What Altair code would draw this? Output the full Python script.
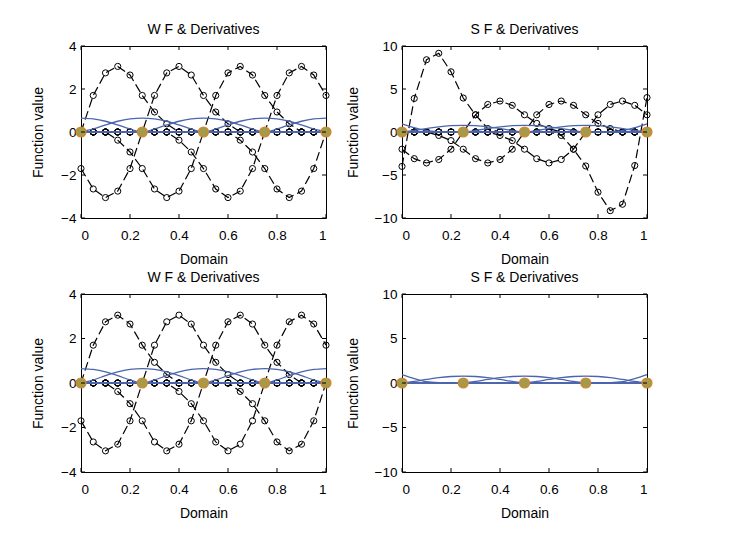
import altair as alt
import pandas as pd

# ---------------- data ----------------
X = [0.0, 0.05, 0.1, 0.15, 0.2, 0.25, 0.3, 0.35, 0.4, 0.45, 0.5,
     0.55, 0.6, 0.65, 0.7, 0.75, 0.8, 0.85, 0.9, 0.95, 1.0]
X_TICKS = [0, 0.2, 0.4, 0.6, 0.8, 1]
NODE_X = [0.0, 0.25, 0.5, 0.75, 1.0]
NODE_Y = [0, 0, 0, 0, 0]

# W F & derivatives (black dashed, circle markers)
WF_R0 = [0, 1.7, 2.75, 3.05, 2.65, 1.7, 0.93, 0.38, 0] + [0] * 12
WF_R1 = [0] * 5 + [0, 1.7, 2.75, 3.05, 2.65, 1.7, 0.93, 0.38, 0] + [0] * 7
WF_R2 = [0] * 10 + [0, 1.7, 2.75, 3.05, 2.65, 1.7, 0.93, 0.38, 0] + [0] * 2
WF_R3 = [0] * 15 + [0, 1.7, 2.75, 3.05, 2.65, 1.7]
WF_L1 = [-1.7, -2.65, -3.05, -2.75, -1.7, 0] + [0] * 15
WF_L2 = [0] * 3 + [-0.38, -0.93, -1.7, -2.65, -3.05, -2.75, -1.7, 0] + [0] * 10
WF_L3 = [0] * 8 + [-0.38, -0.93, -1.7, -2.65, -3.05, -2.75, -1.7, 0] + [0] * 5
WF_L4 = [0] * 13 + [-0.38, -0.93, -1.7, -2.65, -3.05, -2.75, -1.7, 0]

# W F weight functions (blue)
WF_B0 = [0.65, 0.61, 0.5, 0.33, 0.14, 0] + [0] * 15
WF_B1 = [0, 0.14, 0.33, 0.5, 0.61, 0.65, 0.61, 0.5, 0.33, 0.14, 0] + [0] * 10
WF_B2 = [0] * 5 + [0, 0.14, 0.33, 0.5, 0.61, 0.65, 0.61, 0.5, 0.33, 0.14, 0] + [0] * 5
WF_B3 = [0] * 10 + [0, 0.14, 0.33, 0.5, 0.61, 0.65, 0.61, 0.5, 0.33, 0.14, 0]
WF_B4 = [0] * 15 + [0, 0.14, 0.33, 0.5, 0.61, 0.65]

# S F & derivatives (black dashed, circle markers)
SF_R0 = [-4.0, 3.9, 8.4, 9.15, 7.0, 3.95, 2.0, 0.4, 0] + [0] * 12
SF_R1 = [0] * 5 + [0, 2.0, 3.2, 3.6, 3.1, 2.0, 1.0, 0.4, 0] + [0] * 7
SF_R2 = [0] * 10 + [0, 2.0, 3.2, 3.6, 3.1, 2.0, 1.0, 0.4, 0] + [0] * 2
SF_R3 = [0] * 15 + [0, 2.0, 3.2, 3.6, 3.1, 2.0]
SF_L1 = [-2.0, -3.1, -3.6, -3.2, -2.0, 0] + [0] * 15
SF_L2 = [0] * 3 + [-0.4, -1.0, -2.0, -3.1, -3.6, -3.2, -2.0, 0] + [0] * 10
SF_L3 = [0] * 8 + [-0.4, -1.0, -2.0, -3.1, -3.6, -3.2, -2.0, 0] + [0] * 5
SF_L4 = [0] * 13 + [-0.4, -2.0, -3.95, -7.0, -9.15, -8.4, -3.9, 4.0]

# S F weight functions (blue)
SF_B0 = [0.95, 0.5, 0.15, 0.03, 0] + [0] * 16
SF_B1 = [0, 0.18, 0.4, 0.6, 0.73, 0.78, 0.73, 0.6, 0.4, 0.18, 0] + [0] * 10
SF_B2 = [0] * 5 + [0, 0.18, 0.4, 0.6, 0.73, 0.78, 0.73, 0.6, 0.4, 0.18, 0] + [0] * 5
SF_B3 = [0] * 10 + [0, 0.18, 0.4, 0.6, 0.73, 0.78, 0.73, 0.6, 0.4, 0.18, 0]
SF_B4 = [0] * 17 + [0.03, 0.15, 0.5, 0.95]

WF_BLACK = {"r0": WF_R0, "r1": WF_R1, "r2": WF_R2, "r3": WF_R3,
            "l1": WF_L1, "l2": WF_L2, "l3": WF_L3, "l4": WF_L4}
WF_BLUE = {"b0": WF_B0, "b1": WF_B1, "b2": WF_B2, "b3": WF_B3, "b4": WF_B4}
SF_BLACK = {"r0": SF_R0, "r1": SF_R1, "r2": SF_R2, "r3": SF_R3,
            "l1": SF_L1, "l2": SF_L2, "l3": SF_L3, "l4": SF_L4}
SF_BLUE = {"b0": SF_B0, "b1": SF_B1, "b2": SF_B2, "b3": SF_B3, "b4": SF_B4}


def to_long(curves):
    rows = []
    for name, ys in curves.items():
        for x, y in zip(X, ys):
            rows.append({"x": x, "y": y, "c": name})
    return pd.DataFrame(rows)


FONT = "Liberation Sans"
W = 245


def panel(title, black, blue, ydom, yvals, h, tpad):
    xs = alt.Scale(domain=[0, 1], nice=False, zero=False)
    ys = alt.Scale(domain=ydom, nice=False, zero=False)
    xax = alt.Axis(values=X_TICKS, format="~g", title="Domain", ticks=False,
                   domain=False, grid=False, labelPadding=10, titlePadding=11)
    yax = alt.Axis(values=yvals, title="Function value", ticks=False,
                   domain=False, grid=False, labelPadding=5,
                   minExtent=24, maxExtent=24, titlePadding=tpad)
    XE = alt.X("x:Q", scale=xs, axis=xax)
    YE = alt.Y("y:Q", scale=ys, axis=yax)

    layers = []
    if black is not None:
        bdf = to_long(black)
        layers.append(alt.Chart(bdf).mark_line(color="black", strokeWidth=1.2,
                                               strokeDash=[9, 4])
                      .encode(x=XE, y=YE, detail="c:N"))
        layers.append(alt.Chart(bdf).mark_point(shape="circle", filled=False,
                                                size=38, color="black",
                                                strokeWidth=1, opacity=1)
                      .encode(x=XE, y=YE))
    udf = to_long(blue)
    layers.append(alt.Chart(udf).mark_line(color="#4c64ad", strokeWidth=1.3,
                                           interpolate="monotone")
                  .encode(x=XE, y=YE, detail="c:N"))
    ndf = pd.DataFrame({"x": NODE_X, "y": NODE_Y})
    layers.append(alt.Chart(ndf).mark_circle(size=100, color="#a39b4a",
                                             stroke="#d8832c", strokeWidth=1.2,
                                             opacity=1)
                  .encode(x=XE, y=YE))
    # inward ticks on all four sides (MATLAB box style)
    xt = pd.DataFrame({"x": X_TICKS})
    yt = pd.DataFrame({"y": yvals})
    layers.append(alt.Chart(xt).mark_rule(color="black", strokeWidth=1)
                  .encode(x=XE, y=alt.value(h), y2=alt.value(h - 4)))
    layers.append(alt.Chart(xt).mark_rule(color="black", strokeWidth=1)
                  .encode(x=XE, y=alt.value(0), y2=alt.value(4)))
    layers.append(alt.Chart(yt).mark_rule(color="black", strokeWidth=1)
                  .encode(y=YE, x=alt.value(0), x2=alt.value(4)))
    layers.append(alt.Chart(yt).mark_rule(color="black", strokeWidth=1)
                  .encode(y=YE, x=alt.value(W), x2=alt.value(W - 4)))

    return alt.layer(*layers).properties(
        width=W, height=h,
        title=alt.TitleParams(title, fontSize=14, fontWeight="normal",
                              font=FONT, color="black", offset=2))


p1 = panel("W F & Derivatives", WF_BLACK, WF_BLUE, [-4, 4], [-4, -2, 0, 2, 4], 172, 12)
p2 = panel("S F & Derivatives", SF_BLACK, SF_BLUE, [-10, 10], [-10, -5, 0, 5, 10], 172, 18)
p3 = panel("W F & Derivatives", WF_BLACK, WF_BLUE, [-4, 4], [-4, -2, 0, 2, 4], 178, 12)
p4 = panel("S F & Derivatives", None, SF_BLUE, [-10, 10], [-10, -5, 0, 5, 10], 178, 18)

chart = alt.vconcat(
    alt.hconcat(p1, p2, spacing=11),
    alt.hconcat(p3, p4, spacing=11),
    spacing=3,
).properties(
    padding={"left": 22, "top": 14, "right": 5, "bottom": 5},
    background="white",
).configure_view(
    stroke="black", strokeWidth=1
).configure_axis(
    labelFont=FONT, titleFont=FONT, labelFontSize=13.5, titleFontSize=14,
    titleFontWeight="normal", labelColor="black", titleColor="black"
)

chart.save("out.html", embed_options={"renderer": "svg", "actions": False})
